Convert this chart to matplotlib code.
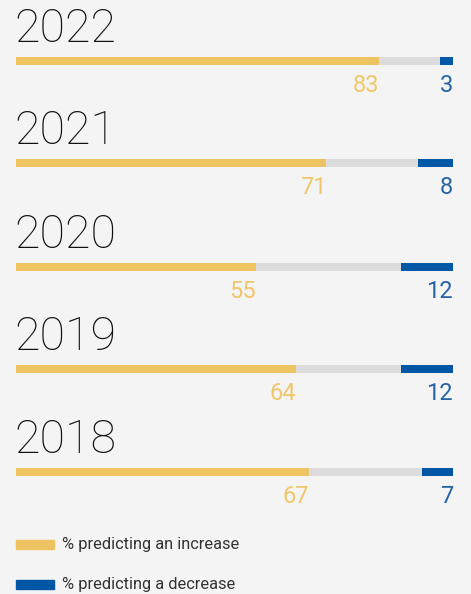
import matplotlib.pyplot as plt
from matplotlib.patches import Rectangle

years = ["2022", "2021", "2020", "2019", "2018"]
increase = [83, 71, 55, 64, 67]
decrease = [3, 8, 12, 12, 7]

bg = "#f4f4f4"
yellow = "#eec462"
grey = "#dcdcdc"
blue = "#0057a5"

W, H = 471, 594
fig = plt.figure(figsize=(W / 100, H / 100), dpi=100, facecolor=bg)
# axes in percent horizontally, pixel rows vertically
ax = fig.add_axes([16 / W, 0, 437 / W, 1])
ax.set_xlim(0, 100)
ax.set_ylim(H, 0)
ax.axis("off")

bar_y = [61, 163, 267, 369, 472]
for yr, inc, dec, y in zip(years, increase, decrease, bar_y):
    ax.barh(y, 100, height=8, color=grey)
    ax.barh(y, inc, height=8, color=yellow)
    ax.barh(y, dec, left=100 - dec, height=8, color=blue)
    ax.text(-0.4, y - 19, yr, fontsize=33.5, fontweight="light", family="Roboto",
            color="#111111", ha="left", va="baseline")
    ax.text(inc, y + 31, str(inc), fontsize=17, family="Roboto",
            color="#efc76a", ha="right", va="baseline")
    ax.text(100, y + 31, str(dec), fontsize=17, family="Roboto",
            color="#2563a8", ha="right", va="baseline")

# legend
for lab, col, y in [("% predicting an increase", yellow, 544),
                    ("% predicting a decrease", blue, 584)]:
    fig.patches.append(Rectangle((16 / W, 1 - (y + 4.5) / H), 38 / W, 9 / H,
                                 transform=fig.transFigure, color=col))
    fig.text(62 / W, 1 - y / H, lab, fontsize=11.8, family="Roboto",
             color="#333333", ha="left", va="center")

fig.savefig("out.png", dpi=100, facecolor=bg)
